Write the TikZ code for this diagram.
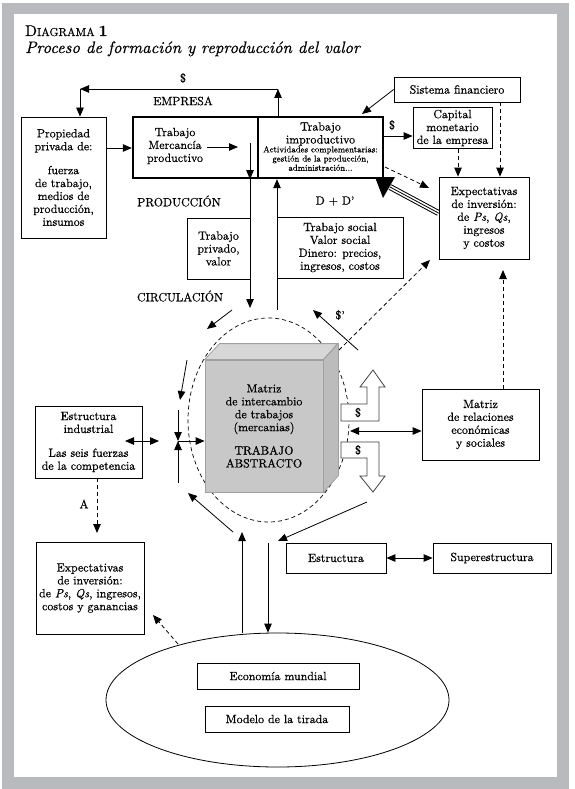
\documentclass[tikz,border=0pt]{standalone}
\usepackage{fontspec}
\setmainfont{lmroman10}[Extension=.otf, UprightFont=*-regular, BoldFont=*-bold, ItalicFont=*-italic, BoldItalicFont=*-bolditalic, FakeBold=0.6]
\usetikzlibrary{arrows.meta,shapes.geometric,calc}
\definecolor{framegray}{RGB}{185,186,189}
\definecolor{cubefront}{RGB}{200,200,200}
\definecolor{cubetop}{RGB}{215,215,215}
\definecolor{cuberight}{RGB}{188,188,188}
\definecolor{cubeedge}{RGB}{160,160,160}
\newcommand{\tx}{\fontsize{11.9}{12.9}\selectfont}
\newcommand{\smalltx}{\fontsize{8.8}{9.2}\selectfont}
\begin{document}
\begin{tikzpicture}[x=1pt,y=-1pt,
  box/.style={draw, line width=0.8pt, inner sep=0pt, align=center, font=\tx},
  thickbox/.style={draw, line width=2.4pt, inner sep=0pt},
  lbl/.style={inner sep=0pt, align=center, font=\tx},
  arr/.style={line width=0.8pt, -{Triangle[length=9pt,width=7.5pt]}},
  darr/.style={arr, dash pattern=on 4pt off 3pt},
  dbl/.style={line width=0.8pt, {Triangle[length=9pt,width=7.5pt]}-{Triangle[length=9pt,width=7.5pt]}},
  plain/.style={line width=0.8pt},
  blockarr/.style={line width=0.8pt, draw=black!75, fill=white}
]
\useasboundingbox (0,0) rectangle (574,789);
\fill[framegray] (2,3) rectangle (569,789);
\fill[white] (14,14) rectangle (557,777);

% title
\node[anchor=base west, inner sep=0pt] (t1) at (25,36) {\fontsize{15.5}{17}\selectfont D\fontsize{11.5}{13}\selectfont IAGRAMA \fontsize{15.5}{17}\selectfont\bfseries 1};
\node[anchor=base west, inner sep=0pt] (t2) at (25,53) {\fontsize{16.6}{19}\selectfont\itshape Proceso de formación y reproducción del valor};

% coordinates for free ends
\coordinate (topR) at (278,89);
\coordinate (topL) at (80,89);
\coordinate (yA) at (0,148);
\coordinate (m1) at (207,147);
\coordinate (m2) at (238,147);
\coordinate (v1top) at (250,143);
\coordinate (v1bot) at (250,308);
\coordinate (v2bot) at (277,310);
\coordinate (sf1) at (362,114);
\coordinate (yC) at (0,136);
\coordinate (xCap) at (458,0);
\coordinate (xSf) at (500,0);
\coordinate (d1a) at (385,167);
\coordinate (d1b) at (429,188);
\coordinate (trA) at (390,187);
\coordinate (trB) at (438.5,213);
\coordinate (cA) at (339,350);
\coordinate (cB) at (430,260);
\coordinate (xMr) at (503,0);
\coordinate (mrTip) at (503,270);
\coordinate (sp1) at (358,350);
\coordinate (sp2) at (313,310);
\coordinate (dblL) at (350,431);
\coordinate (ci1) at (232,310);
\coordinate (ci2) at (207,329);
\coordinate (l1) at (187,360);
\coordinate (l2) at (180,400);
\coordinate (vx) at (178,441);
\coordinate (vxt) at (178,410);
\coordinate (vxb) at (178,483);
\coordinate (e1) at (125,441);
\coordinate (e2) at (159,441);
\coordinate (xA) at (97,533);
\coordinate (w1) at (178,644);
\coordinate (w2) at (153,615);
\coordinate (b1) at (233,532);
\coordinate (b2) at (188,493);
\coordinate (wUp) at (242,532);
\coordinate (wDn) at (268,543);
\coordinate (s1) at (367,502);
\coordinate (s2) at (278,541);

% triple line (drawn first so that boxes lie over its ends)
\draw[line width=6pt] (trA) -- (trB);
\draw[white, line width=4pt] (trA) -- (trB);
\draw[line width=0.8pt] (trA) -- (trB);

% boxes
\node[box, minimum width=85pt, minimum height=121pt] (prop) at (63.5,177.5)
  {Propiedad\\privada de:\\[11pt]fuerza\\de trabajo,\\medios de\\producción,\\insumos};
\node[thickbox, minimum width=125pt, minimum height=61pt] (prod) at (195.5,147.5) {};
\node[lbl] (prodtxt) at (175,146) {Trabajo\\Mercancía\\productivo};
\node[thickbox, minimum width=125pt, minimum height=61pt] (improd) at (320.5,147.5) {};
\node[lbl] (imptxt) at (320.5,134) {Trabajo\\improductivo};
\node[inner sep=0pt, align=center, font=\smalltx] (impsmall) at (320.5,158.5)
  {Actividades complementarias:\\gestión de la producción,\\administración...};
\node[box, minimum width=63pt, minimum height=61pt] (priv) at (218.5,248.5) {Trabajo\\privado,\\valor};
\node[box, minimum width=126pt, minimum height=61pt] (soc) at (340,247.5)
  {Trabajo social\\Valor social\\Dinero: precios,\\ingresos, costos};
\node[box, minimum width=126pt, minimum height=25pt] (sisfin) at (457,89.5) {Sistema financiero};
\node[box, minimum width=79pt, minimum height=41pt] (capital) at (452.5,128) {Capital\\monetario\\de la empresa};
\node[box, minimum width=90pt, minimum height=82pt] (expR) at (484,218)
  {Expectativas\\de inversión:\\de \textit{Ps}, \textit{Qs},\\ingresos\\y costos};
\node[box, minimum width=117pt, minimum height=71pt] (matrel) at (480.5,424.5)
  {Matriz\\de relaciones\\económicas\\y sociales};
\node[box, minimum width=107pt, minimum height=72pt] (estind) at (88.5,442)
  {Estructura\\industrial\\[11pt]Las seis fuerzas\\de la competencia};
\node[box, minimum width=108pt, minimum height=92pt] (expL) at (90,588)
  {Expectativas\\de inversión:\\de \textit{Ps}, \textit{Qs}, ingresos,\\costos y ganancias};
\node[box, minimum width=100pt, minimum height=30pt] (estr) at (336,558) {Estructura};
\node[box, minimum width=118pt, minimum height=30pt] (super) at (492,558) {Superestructura};
\node[draw, ellipse, line width=0.8pt, inner sep=0pt, minimum width=343pt, minimum height=134pt] (world) at (277.5,700) {};
\node[box, minimum width=162pt, minimum height=26pt] (econ) at (278,676) {Economía mundial};
\node[box, minimum width=144pt, minimum height=26pt] (modelo) at (277,719) {Modelo de la tirada};

% circulation ellipse and cube
\node[draw, ellipse, line width=0.7pt, dash pattern=on 4pt off 3pt, inner sep=0pt, minimum width=161pt, minimum height=204pt] (circ) at (268.5,420) {};
\node[draw=cubeedge, fill=cubefront, line width=0.8pt, inner sep=0pt, minimum width=118pt, minimum height=132pt, align=center, font=\tx] (cube) at (264,426)
  {Matriz\\de intercambio\\de trabajos\\(mercanias)\\[10.5pt]TRABAJO\\ABSTRACTO};
\filldraw[fill=cubetop, draw=cubeedge, line width=0.8pt] (cube.north west) -- ++(15,-16) -- ++(118,0) -- (cube.north east) -- cycle;
\filldraw[fill=cuberight, draw=cubeedge, line width=0.8pt] (cube.north east) -- ++(15,-16) -- ++(0,132) -- (cube.south east) -- cycle;

% block arrows
\draw[blockarr] (341,404) -- (367,404) -- (367,387) -- (360,387) -- (373,370) -- (385,387) -- (379,387) -- (379,421) -- (341,421) -- cycle;
\draw[blockarr] (341,442) -- (379,442) -- (379,476) -- (385,476) -- (373,492) -- (360,476) -- (367,476) -- (367,458) -- (341,458) -- cycle;
\node[lbl] (bd1) at (358,412.5) {\$};
\node[lbl] (bd2) at (358,450) {\$};

% labels
\node[lbl] (dol) at (183,78) {\$};
\node[lbl] (emp) at (183,101) {EMPRESA};
\node[lbl] (prodl) at (179,201) {PRODUCCIÓN};
\node[lbl] (ddl) at (335,201) {D + D’};
\node[lbl] (circl) at (180,296) {CIRCULACIÓN};
\node[lbl] (dol2) at (392,125) {\$};
\node[lbl] (dol3) at (340,315) {\$’};
\node[lbl] (al) at (84,504) {A};

% connectors
\draw[arr] (improd.north -| topR) -- (topR);
\draw[arr] (topR) -- (topL);
\draw[arr] (topL) -- (topL |- prop.north);
\draw[arr] (prop.east |- yA) -- (prod.west |- yA);
\draw[arr] (m1) -- (m2);
\draw[arr] (v1top) -- (v1top |- prod.south);
\draw[arr] (v1top |- prod.south) -- (v1bot);
\draw[arr] (v2bot) -- (v2bot |- improd.south);
\draw[arr] (sisfin.west) -- (sf1);
\draw[arr] (improd.east |- yC) -- (capital.west |- yC);
\draw[darr] (capital.south -| xCap) -- (expR.north -| xCap);
\draw[darr] (sisfin.south -| xSf) -- (expR.north -| xSf);
\draw[darr] (d1a) -- (d1b);
\fill (375,177) -- (395,177) -- (383,198) -- cycle;
\draw[darr] (cA) -- (cB);
\draw[darr] (matrel.north -| xMr) -- (mrTip);
\draw[arr] (sp1) -- (sp2);
\draw[dbl] (matrel.west |- dblL) -- (dblL);
\draw[arr] (ci1) -- (ci2);
\draw[arr] (l1) -- (l2);
\draw[arr] (vxt) -- (vx);
\draw[arr] (vxb) -- (vx);
\draw[arr] (vx) -- (vx -| cube.west);
\draw[dbl] (e1) -- (e2);
\draw[darr] (estind.south -| xA) -- (xA);
\draw[darr] (w1) -- (w2);
\draw[arr] (b1) -- (b2);
\draw[arr] (world.north -| wUp) -- (wUp);
\draw[arr] (wDn) -- (wDn |- world.north);
\draw[arr] (s1) -- (s2);
\draw[dbl] (estr.east) -- (super.west);
\end{tikzpicture}
\end{document}
